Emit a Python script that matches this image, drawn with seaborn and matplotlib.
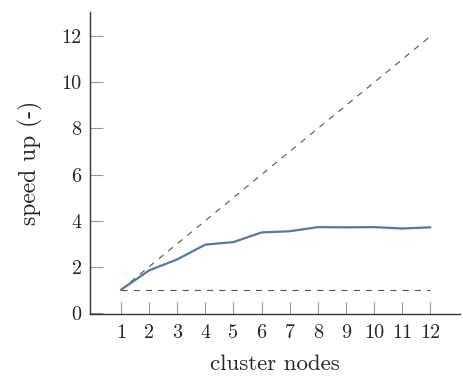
import matplotlib
matplotlib.use("Agg")
import matplotlib.pyplot as plt
import seaborn as sns
import pandas as pd
import numpy as np

nodes = [1, 2, 3, 4, 5, 6, 7, 8, 9, 10, 11, 12]
speedup = [1.0, 1.84, 2.32, 2.96, 3.07, 3.49, 3.54, 3.72, 3.71, 3.72, 3.66, 3.71]
ideal = [1, 2, 3, 4, 5, 6, 7, 8, 9, 10, 11, 12]
baseline = [1] * 12
yticks = [0, 2, 4, 6, 8, 10, 12]

sns.set_style("ticks")
plt.rcParams["font.family"] = ["cmr10", "DejaVu Serif"]
plt.rcParams["axes.formatter.use_mathtext"] = True

df = pd.DataFrame({"nodes": nodes, "speedup": speedup, "ideal": ideal, "baseline": baseline})

fig = plt.figure(figsize=(4.63, 3.76), dpi=100)
ax = fig.add_axes([0.1944, 0.1649, 0.799, 0.803])

sns.lineplot(data=df, x="nodes", y="ideal", ax=ax, color="#555555", lw=0.8,
             linestyle=(0, (5.5, 5.5)))
sns.lineplot(data=df, x="nodes", y="baseline", ax=ax, color="#555555", lw=0.8,
             linestyle=(0, (5.5, 5.5)))
sns.lineplot(data=df, x="nodes", y="speedup", ax=ax, color="#5577aa", lw=1.6)

ax.set_xlim(-0.1, 13.05)
ax.set_ylim(-0.05, 13.05)
ax.set_xticks(nodes)
ax.set_xticklabels([str(n) for n in nodes])
ax.set_yticks(yticks)
ax.set_yticklabels([str(v) for v in yticks])
ax.tick_params(direction="in", length=9, width=0.8, color="#999999", labelsize=14.5, pad=7)
ax.tick_params(axis="y", pad=6)
for s in ["top", "right"]:
    ax.spines[s].set_visible(False)
for s in ["left", "bottom"]:
    ax.spines[s].set_color("#333333")
    ax.spines[s].set_linewidth(1.0)
ax.set_xlabel("cluster nodes", fontsize=16.5, labelpad=9)
ax.set_ylabel("speed up (-)", fontsize=17, labelpad=13)

fig.savefig("out.png", dpi=100)
